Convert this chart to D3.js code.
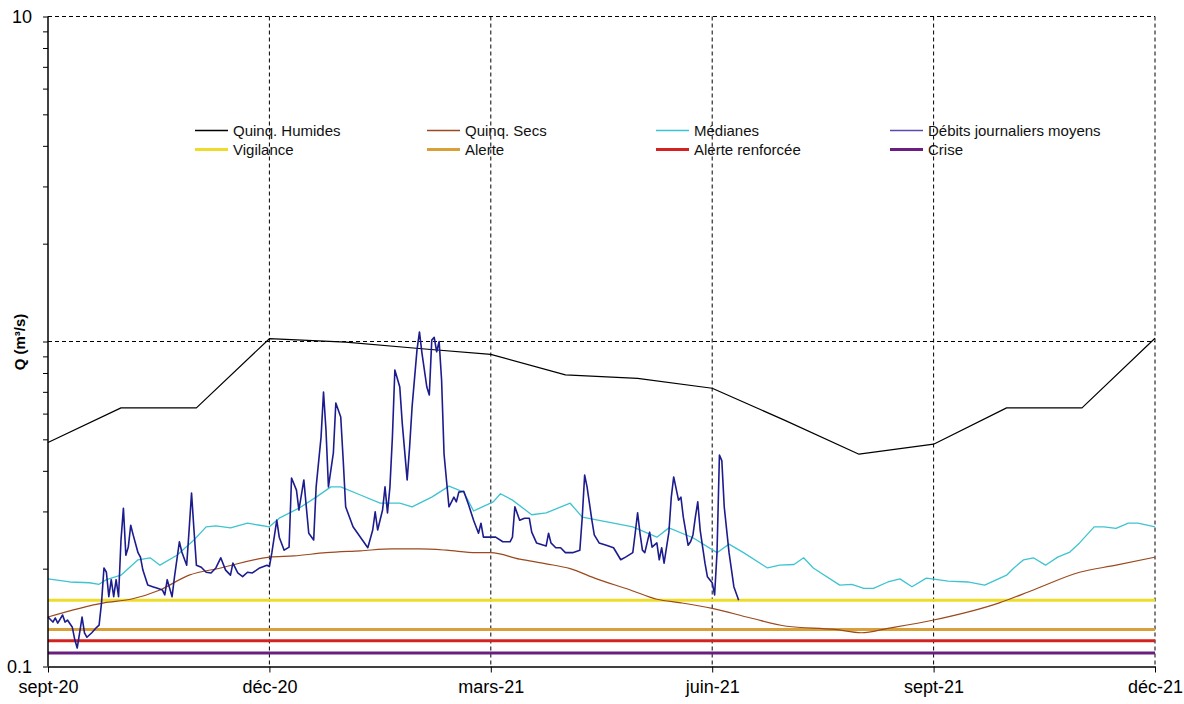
<!DOCTYPE html>
<html><head><meta charset="utf-8">
<script src="https://cdn.jsdelivr.net/npm/d3@7"></script>
<style>
html,body{margin:0;padding:0;background:#fff;}
text{font-family:"Liberation Sans",Arial,sans-serif;}
</style></head>
<body>
<svg id="chart" width="1184" height="704"></svg>
<script>
// ---------- DATA ----------
const startDate = new Date(2020, 8, 1);            // day 0 = 1 sept 2020
const xTickLabels = ["sept-20","déc-20","mars-21","juin-21","sept-21","déc-21"];
const xTickDays   = [0, 91, 181, 273, 365, 456];
const yTickValues = [0.1, 1, 10];
const yTickLabels = ["0.1", "", "10"];

// Quinquennale humide (monthly)
const humDays   = [0,30,61,91,122,153,181,212,242,273,303,334,365,395,426,456];
const humValues = [0.489,0.625,0.625,1.02,0.995,0.95,0.913,0.789,0.77,0.718,0.573,0.45,0.483,0.625,0.625,1.023];

// Quinquennale sèche
const secDays   = [0,23,34,46,58,71,91,101,114,128,141,152,163,175,181,193,204,214,225,239,250,260,273,289,304,324,335,346,365,392,406,425,440,456];
const secValues = [0.142,0.157,0.161,0.172,0.191,0.201,0.217,0.219,0.224,0.227,0.230,0.230,0.228,0.224,0.224,0.214,0.207,0.200,0.186,0.172,0.161,0.157,0.151,0.141,0.133,0.130,0.127,0.131,0.139,0.157,0.172,0.195,0.205,0.217];

// Médianes
const medDays   = [0,9,17,21,24,30,37,42,46,53,60,65,69,75,82,87,91,95,103,110,116,120,128,136,144,149,157,164,170,174,182,185,190,198,204,214,219,232,240,250,255,265,275,280,286,296,301,307,311,315,326,331,336,340,346,351,356,362,371,379,386,395,398,402,406,411,416,421,425,431,435,440,445,449,456];
const medValues = [0.186,0.182,0.181,0.179,0.185,0.191,0.213,0.216,0.205,0.220,0.245,0.269,0.271,0.267,0.276,0.272,0.269,0.286,0.307,0.332,0.357,0.357,0.337,0.318,0.318,0.310,0.332,0.359,0.344,0.301,0.321,0.340,0.325,0.293,0.297,0.318,0.288,0.276,0.269,0.250,0.267,0.249,0.224,0.238,0.224,0.201,0.205,0.206,0.216,0.201,0.178,0.179,0.174,0.174,0.182,0.186,0.176,0.187,0.183,0.182,0.178,0.191,0.201,0.213,0.216,0.205,0.217,0.225,0.240,0.269,0.269,0.266,0.276,0.276,0.269];

// Débits journaliers moyens
const flowDays = [0,2,3,4,6,7,8,10,11,12,13,14,15,16,18,20,21,22,23,24,25,26,27,28,29,30,31,32,33,34,35,37,38,39,41,43,45,47,48,49,51,52,54,55,57,58,59,60,61,63,65,67,69,71,73,75,76,78,80,82,84,87,90,
 91,92,94,95,97,99,100,102,103,105,106,107,109,110,112,113,114,115,117,118,120,121,122,125,128,131,133,134,135,137,138,139,140,141,142,144,145,147,148,149,151,152,153,155,156,157,158,159,160,161,162,164,166,167,168,170,172,174,176,177,178,180,
 183,186,189,190,191,193,195,197,198,200,204,205,206,208,210,212,215,218,219,220,221,223,224,226,229,232,235,237,240,241,242,243,244,245,247,248,250,251,252,253,255,256,257,259,260,261,263,264,265,266,267,268,270,271,273,
 274,275,276,277,278,280,282,284];
const flowValues = [0.142,0.137,0.141,0.136,0.144,0.137,0.139,0.132,0.121,0.114,0.127,0.142,0.127,0.123,0.127,0.132,0.134,0.157,0.201,0.195,0.164,0.185,0.164,0.185,0.164,0.245,0.307,0.220,0.233,0.272,0.254,0.224,0.217,0.198,0.178,0.176,0.174,0.172,0.166,0.185,0.164,0.189,0.242,0.225,0.205,0.263,0.342,0.263,0.205,0.202,0.195,0.194,0.201,0.216,0.198,0.191,0.208,0.194,0.189,0.195,0.194,0.201,0.205,
 0.203,0.224,0.282,0.250,0.228,0.233,0.380,0.349,0.303,0.375,0.310,0.257,0.245,0.357,0.508,0.699,0.534,0.357,0.454,0.647,0.586,0.432,0.310,0.269,0.250,0.232,0.263,0.299,0.263,0.303,0.357,0.297,0.357,0.508,0.817,0.724,0.561,0.375,0.474,0.629,0.942,1.07,0.922,0.724,0.685,1.01,1.03,0.93,1.0,0.76,0.45,0.310,0.332,0.321,0.344,0.346,0.314,0.282,0.257,0.276,0.250,0.250,
 0.250,0.242,0.242,0.250,0.310,0.282,0.286,0.286,0.259,0.240,0.235,0.257,0.240,0.232,0.232,0.224,0.224,0.228,0.288,0.388,0.357,0.282,0.254,0.240,0.236,0.232,0.213,0.217,0.224,0.257,0.297,0.257,0.228,0.224,0.259,0.233,0.240,0.213,0.232,0.208,0.259,0.332,0.383,0.325,0.332,0.288,0.236,0.242,0.254,0.288,0.321,0.263,0.208,0.189,0.181,
 0.166,0.224,0.447,0.43,0.31,0.224,0.176,0.16];

// Seuils
const thresholdNames  = ["Vigilance","Alerte","Alerte renforcée","Crise"];
const thresholdValues = [0.16, 0.13, 0.12, 0.11];

const seriesNames = ["Quinq. Humides","Quinq. Secs","Médianes","Débits journaliers moyens"];

// ---------- STYLE ----------
const colors = {
  "Quinq. Humides":"#000000",
  "Quinq. Secs":"#9a4a1e",
  "Médianes":"#3ec4d0",
  "Débits journaliers moyens":"#1c1c8e",
  "Vigilance":"#eedc2a",
  "Alerte":"#d9a03a",
  "Alerte renforcée":"#d42222",
  "Crise":"#6a1f80"
};

const svg = d3.select("#chart");
const pL = 48, pR = 1155, pT = 16.5, pB = 666.5;

const day = d => d3.timeDay.offset(startDate, d);
const x = d3.scaleTime()
  .domain(xTickDays.map(day))
  .range(xTickDays.map((d,i) => pL + i*(pR-pL)/(xTickDays.length-1)));
const y = d3.scaleLog().domain([0.1, 10]).range([pB, pT]);

// grid lines (dashed)
const grid = svg.append("g");
xTickDays.slice(1).forEach(d => {
  grid.append("line").attr("x1", x(day(d))).attr("x2", x(day(d)))
    .attr("y1", pT).attr("y2", pB)
    .attr("stroke","#000").attr("stroke-width",1).attr("stroke-dasharray","4,3");
});
[1, 10].forEach(v => {
  grid.append("line").attr("x1", pL).attr("x2", pR)
    .attr("y1", y(v)).attr("y2", y(v))
    .attr("stroke","#000").attr("stroke-width",1).attr("stroke-dasharray","4,3");
});

// thresholds
thresholdNames.forEach((n,i) => {
  svg.append("line").attr("x1", pL).attr("x2", pR)
    .attr("y1", y(thresholdValues[i])).attr("y2", y(thresholdValues[i]))
    .attr("stroke", colors[n]).attr("stroke-width", 3);
});

function drawSeries(days, vals, color, width, curve) {
  const line = d3.line().x(d => x(day(d[0]))).y(d => y(d[1])).curve(curve || d3.curveLinear);
  svg.append("path").datum(days.map((d,i)=>[d, vals[i]]))
    .attr("d", line).attr("fill","none").attr("stroke", color)
    .attr("stroke-width", width).attr("stroke-linejoin","round");
}
drawSeries(medDays, medValues, colors["Médianes"], 1.3);
drawSeries(secDays, secValues, colors["Quinq. Secs"], 1.2, d3.curveMonotoneX);
drawSeries(humDays, humValues, colors["Quinq. Humides"], 1.2);
drawSeries(flowDays, flowValues, colors["Débits journaliers moyens"], 1.6);

// axes
const minorVals = [];
[0.1, 1].forEach(b => { for (let k = 1; k <= 9; k++) minorVals.push(+(b*k).toFixed(2)); });
minorVals.push(10);
const yAxis = d3.axisLeft(y).tickValues(minorVals).tickSize(5)
  .tickFormat(v => { const i = yTickValues.indexOf(v); return i >= 0 ? yTickLabels[i] : ""; })
  .tickPadding(11);
const gy = svg.append("g").attr("transform", `translate(${pL},0)`).call(yAxis);
gy.select(".domain").attr("d", `M0,${pT}V${pB}`).attr("stroke","#000").attr("stroke-width",1.5);
gy.selectAll("text").attr("font-size", 18).attr("fill","#000");

const xAxis = d3.axisBottom(x).tickValues(xTickDays.map(day)).tickSize(6).tickSizeOuter(0)
  .tickFormat((d,i) => xTickLabels[i]).tickPadding(8);
const gx = svg.append("g").attr("transform", `translate(0,${pB})`).call(xAxis);
gx.select(".domain").attr("stroke","#000").attr("stroke-width",1.5);
gx.selectAll("text").attr("font-size", 18).attr("fill","#000");

// y label
svg.append("text").attr("transform", `translate(25,342) rotate(-90)`)
  .attr("text-anchor","middle").attr("font-size",15).attr("font-weight","bold")
  .text("Q (m³/s)");

// legend
const legendNames = seriesNames.concat(thresholdNames);
const colX = [195, 427, 656, 890];
const rowY = [130.5, 149.5];
legendNames.forEach((n,i) => {
  const cx = colX[i % 4], cy = rowY[Math.floor(i / 4)];
  const thick = i >= 4 ? 3 : 1.3;
  svg.append("line").attr("x1", cx).attr("x2", cx + 33).attr("y1", cy).attr("y2", cy)
    .attr("stroke", n === "Débits journaliers moyens" ? "#5a4ab0" : colors[n]).attr("stroke-width", thick);
  svg.append("text").attr("x", cx + 38).attr("y", cy + 5).attr("font-size", 15)
    .attr("fill","#111").text(n);
});
</script>
</body></html>
